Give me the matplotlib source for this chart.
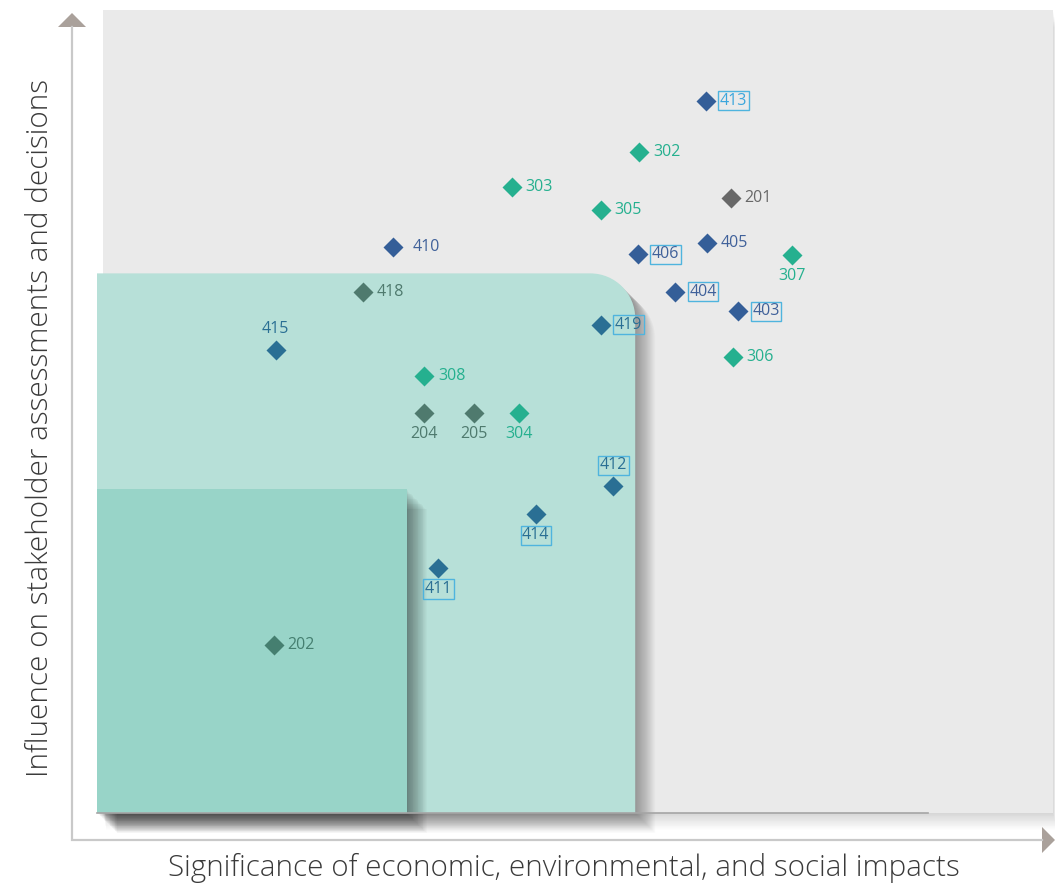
import numpy as np
import matplotlib
matplotlib.use("Agg")
import matplotlib.pyplot as plt
import matplotlib.patheffects as pe
from matplotlib.patches import Rectangle, PathPatch, Polygon
from matplotlib.path import Path

plt.rcParams['font.family'] = ['Open Sans', 'DejaVu Sans']

# topics: id, significance (x), influence (y)
ids = ["413", "302", "303", "201", "305", "410", "406", "405", "307", "404", "403", "418",
       "419", "415", "306", "308", "204", "205", "304", "412", "414", "411", "202"]
sig = [6.37, 5.67, 4.34, 6.63, 5.27, 3.10, 5.66, 6.38, 7.27, 6.05, 6.71, 2.78,
       5.27, 1.87, 6.65, 3.42, 3.42, 3.94, 4.41, 5.40, 4.59, 3.57, 1.85]
infl = [8.87, 8.23, 7.80, 7.66, 7.51, 7.05, 6.96, 7.10, 6.95, 6.49, 6.25, 6.49,
        6.08, 5.77, 5.68, 5.44, 4.98, 4.98, 4.98, 4.07, 3.72, 3.05, 2.09]
group = ["blue", "green", "green", "gray", "green", "blue", "blue", "blue", "green", "blue", "blue", "graygreen",
         "teal", "teal", "green", "green", "graygreen", "graygreen", "green", "teal", "teal", "teal", "darkgreen"]
boxed = ["413", "406", "404", "403", "419", "412", "414", "411"]
label_pos = ["r", "r", "r", "r", "r", "r2", "r", "r", "b", "r", "r", "r",
             "r", "t", "r", "r", "b", "b", "b", "t", "b", "b", "r"]

# zones (significance, influence)
zone_mid = (5.63, 6.72)
zone_low = (3.24, 4.03)

colors = {"blue": "#345e98", "green": "#25b08f", "gray": "#686868",
          "graygreen": "#4f7a6e", "teal": "#2a6f94", "darkgreen": "#457f70"}
text_colors = dict(colors)
text_colors["blue"] = "#40619a"
box_edge = "#4fb4de"

W, H = 1055, 888
fig = plt.figure(figsize=(W / 100, H / 100), dpi=100)

# decoration layer in pixel coords
deco = fig.add_axes([0, 0, 1, 1], zorder=0)
deco.set_xlim(0, W)
deco.set_ylim(H, 0)
deco.axis("off")
deco.plot([72, 72, 1042], [27, 840, 840], color="#c9c9c9", lw=1.6, solid_joinstyle="miter")
deco.add_patch(Polygon([[72, 13], [58, 27], [86, 27]], closed=True, color="#aaa19b", lw=0))
deco.add_patch(Polygon([[1055, 840], [1042, 827], [1042, 853]], closed=True, color="#aaa19b", lw=0))
deco.text(40, 428, "Influence on stakeholder assessments and decisions", rotation=90,
          ha="center", va="center", fontsize=21.3, color="#3a3a3a", fontweight="light")
deco.text(564, 868, "Significance of economic, environmental, and social impacts",
          ha="center", va="center", fontsize=21.3, color="#3a3a3a", fontweight="light")

ax = fig.add_axes([97 / W, (H - 813) / H, 956 / W, 803 / H], zorder=1)
ax.set_xlim(0, 10)
ax.set_ylim(0, 10)
ax.patch.set_alpha(0)
ax.axis("off")


def shadow(n, step, alpha, dx=1.0, dy=1.0):
    return [pe.SimplePatchShadow(offset=(k * step * dx, -k * step * dy), shadow_rgbFace="k", alpha=alpha)
            for k in range(1, n + 1)] + [pe.Normal()]


bg = Rectangle((0.06, 0), 9.94, 10, facecolor="#eaeaea", edgecolor="none", clip_on=False,
               path_effects=shadow(20, 0.6, 0.008, dx=0.2))
ax.add_patch(bg)
ax.plot([0, 8.69], [0, 0], color="#a5a5a5", lw=1.2, clip_on=False)

# mid zone with rounded top-right corner
mx, my = zone_mid
rx, ry = 0.47, 0.56
kk = 0.5523
verts = [(0, 0), (0, my), (mx - rx, my),
         (mx - rx + kk * rx, my), (mx, my - ry + kk * ry), (mx, my - ry),
         (mx, 0), (0, 0)]
codes = [Path.MOVETO, Path.LINETO, Path.LINETO,
         Path.CURVE4, Path.CURVE4, Path.CURVE4,
         Path.LINETO, Path.CLOSEPOLY]
ax.add_patch(PathPatch(Path(verts, codes), facecolor="#b7e0d8", edgecolor="none", clip_on=False,
                       path_effects=shadow(24, 0.6, 0.016)))
ax.add_patch(Rectangle((0, 0), zone_low[0], zone_low[1], facecolor="#98d4c8", edgecolor="none",
                       clip_on=False, path_effects=shadow(24, 0.6, 0.018)))

offsets = {"r": (10, 0, "left", "center"), "r2": (14, 0, "left", "center"),
           "b": (0, -15, "center", "center"), "t": (0, 15, "center", "center")}

for i, name in enumerate(ids):
    g = group[i]
    ax.plot(sig[i], infl[i], marker="D", ms=10.5, color=colors[g], mec="none", zorder=5)
    dx, dy, ha, va = offsets[label_pos[i]]
    tc = text_colors[g]
    bbox = None
    if name in boxed:
        bbox = dict(boxstyle="square,pad=0.1", fc="none", ec=box_edge, lw=1)
        if name == "413":
            tc = "#3ba6dc"
    ax.annotate(name, (sig[i], infl[i]), xytext=(dx, dy), textcoords="offset points",
                ha=ha, va=va, fontsize=11.5, color=tc, bbox=bbox, zorder=6)

fig.savefig("out.png", dpi=100)
